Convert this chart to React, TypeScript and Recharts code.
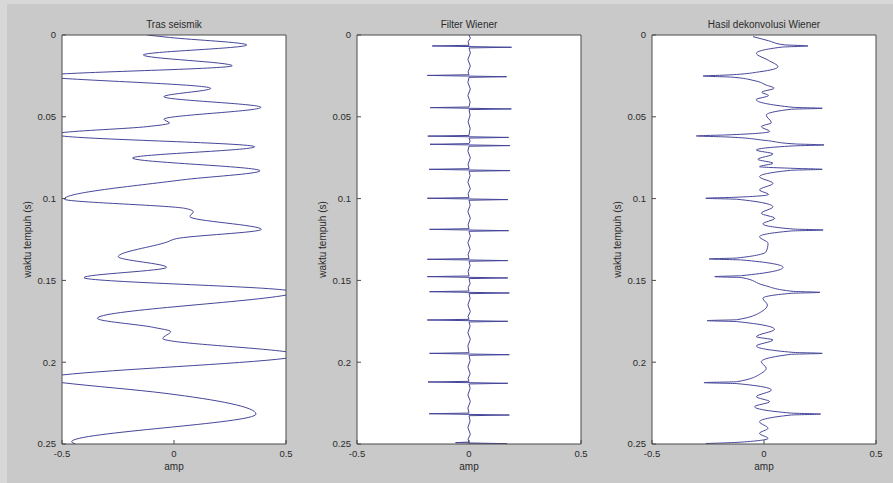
import { LineChart, Line, XAxis, YAxis, CartesianGrid, Label } from "recharts";

const timeTicks = [0, 0.05, 0.1, 0.15, 0.2, 0.25];
const ampTicks = [-0.5, 0, 0.5];

// [time (s), amplitude]
const trasSeismik: [number, number][] = [
  [0.0, -0.12], [0.0015, -0.02], [0.0061, 0.325], [0.0122, -0.137],
  [0.0188, 0.26], [0.0238, -0.5], [0.0251, -0.66], [0.0265, -0.5],
  [0.0326, 0.164], [0.0377, -0.045], [0.0442, 0.388], [0.0515, -0.045],
  [0.0538, -0.02], [0.056, -0.12], [0.0597, -0.5], [0.0607, -0.54],
  [0.0617, -0.5], [0.0683, 0.36], [0.0752, -0.185], [0.083, 0.384],
  [0.0886, 0.034], [0.1003, -0.49], [0.106, 0.05], [0.108, 0.086],
  [0.111, 0.071], [0.1188, 0.39], [0.1245, 0.01], [0.1265, -0.03],
  [0.1355, -0.249], [0.142, -0.033], [0.1483, -0.402], [0.156, 0.5],
  [0.1575, 0.56], [0.159, 0.5], [0.1732, -0.342], [0.1787, -0.092],
  [0.1813, -0.015], [0.1855, -0.05], [0.1936, 0.5], [0.1956, 0.6],
  [0.1976, 0.5], [0.2078, -0.5], [0.2101, -0.64], [0.2125, -0.5],
  [0.219, -0.04], [0.2317, 0.366], [0.2486, -0.457], [0.25, -0.44],
];

const filterWiener: [number, number][] = [
  [0.0, 0.0], [0.002, 0.006], [0.004, -0.004],
  [0.0063, 0.0], [0.0067, -0.164], [0.0075, 0.19], [0.0079, 0.0],
  [0.011, 0.006], [0.015, -0.005], [0.019, 0.006], [0.0225, -0.004],
  [0.0243, 0.0], [0.0247, -0.186], [0.0255, 0.168], [0.0259, 0.0],
  [0.029, -0.005], [0.033, 0.006], [0.037, -0.005], [0.041, 0.005],
  [0.044, 0.0], [0.0444, -0.173], [0.0452, 0.189], [0.0456, 0.0],
  [0.049, 0.005], [0.053, -0.004], [0.057, 0.005],
  [0.0614, 0.0], [0.0618, -0.184], [0.0626, 0.177], [0.063, 0.0],
  [0.0648, 0.005],
  [0.0664, 0.0], [0.0668, -0.174], [0.0676, 0.183], [0.068, 0.0],
  [0.071, -0.005], [0.075, 0.006], [0.079, -0.004],
  [0.0817, 0.0], [0.0821, -0.178], [0.0829, 0.183], [0.0833, 0.0],
  [0.086, 0.005], [0.09, -0.005], [0.094, 0.006], [0.097, -0.004],
  [0.0994, 0.0], [0.0998, -0.186], [0.1006, 0.173], [0.101, 0.0],
  [0.104, 0.005], [0.108, -0.005], [0.112, 0.006], [0.116, -0.004],
  [0.1184, 0.0], [0.1188, -0.176], [0.1196, 0.177], [0.12, 0.0],
  [0.123, 0.006], [0.127, -0.005], [0.131, 0.005], [0.134, -0.004],
  [0.1367, 0.0], [0.1371, -0.186], [0.1379, 0.173], [0.1383, 0.0],
  [0.141, 0.005], [0.1445, -0.004],
  [0.1473, 0.0], [0.1477, -0.186], [0.1485, 0.173], [0.1489, 0.0],
  [0.152, 0.005], [0.1545, -0.004],
  [0.1565, 0.0], [0.1569, -0.176], [0.1577, 0.18], [0.1581, 0.0],
  [0.161, 0.005], [0.165, -0.005], [0.169, 0.006], [0.172, -0.004],
  [0.1738, 0.0], [0.1742, -0.186], [0.175, 0.173], [0.1754, 0.0],
  [0.178, 0.005], [0.182, -0.005], [0.186, 0.006], [0.19, -0.005],
  [0.1942, 0.0], [0.1946, -0.176], [0.1954, 0.18], [0.1958, 0.0],
  [0.199, 0.005], [0.203, -0.005], [0.207, 0.005], [0.21, -0.004],
  [0.2117, 0.0], [0.2121, -0.183], [0.2129, 0.173], [0.2133, 0.0],
  [0.216, 0.005], [0.22, -0.005], [0.224, 0.006], [0.228, -0.005],
  [0.2311, 0.0], [0.2315, -0.178], [0.2323, 0.18], [0.2327, 0.0],
  [0.236, 0.005], [0.24, -0.005], [0.244, 0.006], [0.247, -0.004],
  [0.2488, 0.0], [0.2492, -0.06], [0.2498, 0.17], [0.25, 0.0],
];

const hasilDekonvolusi: [number, number][] = [
  [0.001, -0.049], [0.0035, 0.02], [0.006, 0.09], [0.0067, 0.196],
  [0.0074, 0.08], [0.0112, -0.034], [0.0155, 0.02], [0.0194, 0.0625],
  [0.0225, -0.02], [0.0245, -0.17], [0.0251, -0.272], [0.0257, -0.15],
  [0.028, -0.04], [0.0306, 0.01], [0.0325, 0.045], [0.035, -0.01],
  [0.037, 0.02], [0.0395, -0.035], [0.0442, 0.13], [0.0448, 0.26],
  [0.0454, 0.12], [0.049, 0.01], [0.0536, 0.033], [0.056, -0.012],
  [0.059, 0.025], [0.0611, -0.17], [0.0617, -0.302], [0.0623, -0.17],
  [0.0645, 0.01], [0.0666, 0.14], [0.0672, 0.268], [0.0678, 0.13],
  [0.0703, -0.034], [0.0727, 0.04], [0.076, -0.027], [0.0784, 0.04],
  [0.0805, -0.02], [0.0815, 0.13], [0.0821, 0.26], [0.0827, 0.12],
  [0.0866, -0.02], [0.0907, 0.04], [0.0947, -0.02], [0.0975, 0.02],
  [0.0992, -0.13], [0.0998, -0.26], [0.1004, -0.12], [0.105, 0.04],
  [0.109, -0.012], [0.112, 0.048], [0.1155, -0.005], [0.1186, 0.13],
  [0.1192, 0.264], [0.1198, 0.12], [0.1233, -0.02], [0.1273, 0.018],
  [0.1324, 0.01], [0.1363, -0.12], [0.1369, -0.245], [0.1375, -0.1],
  [0.142, 0.085], [0.1471, -0.1], [0.1477, -0.22], [0.1483, -0.1],
  [0.153, 0.0], [0.1567, 0.13], [0.1573, 0.25], [0.1579, 0.12],
  [0.1609, -0.005], [0.165, 0.015], [0.169, -0.01], [0.174, -0.12],
  [0.1746, -0.254], [0.1752, -0.12], [0.1799, 0.047], [0.1844, -0.034],
  [0.1864, 0.04], [0.1901, -0.034], [0.194, 0.13], [0.1946, 0.26],
  [0.1952, 0.12], [0.1997, -0.012], [0.2037, 0.01], [0.2068, -0.012],
  [0.2119, -0.12], [0.2125, -0.268], [0.2131, -0.12], [0.217, 0.033],
  [0.2211, -0.034], [0.2241, 0.025], [0.2272, -0.042], [0.2311, 0.12],
  [0.2317, 0.253], [0.2323, 0.12], [0.2364, -0.02], [0.2404, 0.018],
  [0.2435, -0.02], [0.2466, 0.018], [0.249, -0.12], [0.2497, -0.26],
];

const FONT = '"Liberation Sans", Arial, sans-serif';
const AXIS = "#4a4a4a";
const LINE = "#46469a";
const tickStyle = { fontSize: 9.5, fill: "#2b2b2b", fontFamily: FONT };
const labelStyle = { fontSize: 10, fill: "#2b2b2b", fontFamily: FONT };

function Panel({
  plotLeft,
  title,
  points,
  curve,
}: {
  plotLeft: number;
  title: string;
  points: [number, number][];
  curve: "monotone" | "linear";
}) {
  const data = points.map(([t, amp]) => ({ t, amp }));
  return (
    <div style={{ position: "absolute", left: plotLeft - 50, top: 0 }}>
      <LineChart
        width={290}
        height={483}
        layout="vertical"
        data={data}
        margin={{ top: 34, right: 15, bottom: 11, left: 0 }}
      >
        <CartesianGrid
          fill="#ffffff"
          fillOpacity={1}
          horizontal={false}
          vertical={false}
          stroke="none"
        />
        <XAxis
          type="number"
          domain={[-0.5, 0.5]}
          ticks={ampTicks}
          interval={0}
          allowDataOverflow
          height={28}
          tickSize={-4}
          tickMargin={10}
          tick={tickStyle}
          stroke={AXIS}
        >
          <Label value="amp" position="insideBottom" offset={2.5} style={labelStyle} />
        </XAxis>
        <XAxis
          xAxisId="top"
          orientation="top"
          type="number"
          domain={[-0.5, 0.5]}
          ticks={ampTicks}
          interval={0}
          allowDataOverflow
          height={1}
          tickSize={-4}
          tick={false}
          stroke={AXIS}
        >
          <Label value={title} position="top" offset={6} style={labelStyle} />
        </XAxis>
        <YAxis
          type="number"
          dataKey="t"
          domain={[0, 0.25]}
          ticks={timeTicks}
          interval={0}
          allowDataOverflow
          width={50}
          tickSize={-4}
          tickMargin={10}
          tick={tickStyle}
          stroke={AXIS}
        >
          <Label
            value="waktu tempuh (s)"
            angle={-90}
            position="insideLeft"
            offset={15}
            style={{ ...labelStyle, textAnchor: "middle" }}
          />
        </YAxis>
        <YAxis
          yAxisId="right"
          orientation="right"
          type="number"
          domain={[0, 0.25]}
          ticks={timeTicks}
          interval={0}
          allowDataOverflow
          width={1}
          tickSize={-4}
          tick={false}
          stroke={AXIS}
        />
        <Line
          dataKey="amp"
          type={curve}
          stroke={LINE}
          strokeWidth={1}
          dot={false}
          activeDot={false}
          isAnimationActive={false}
        />
      </LineChart>
    </div>
  );
}

export default function App() {
  return (
    <div
      style={{
        position: "absolute",
        left: 0,
        top: 0,
        width: 893,
        height: 483,
        background: "#d8d8d8",
        overflow: "hidden",
      }}
    >
      <div
        style={{
          position: "absolute",
          left: 7,
          top: 4,
          right: 0,
          bottom: 0,
          background: "#c9c9c9",
        }}
      />
      <Panel plotLeft={62} title="Tras seismik" points={trasSeismik} curve="monotone" />
      <Panel plotLeft={357} title="Filter Wiener" points={filterWiener} curve="linear" />
      <Panel
        plotLeft={652}
        title="Hasil dekonvolusi Wiener"
        points={hasilDekonvolusi}
        curve="monotone"
      />
    </div>
  );
}
